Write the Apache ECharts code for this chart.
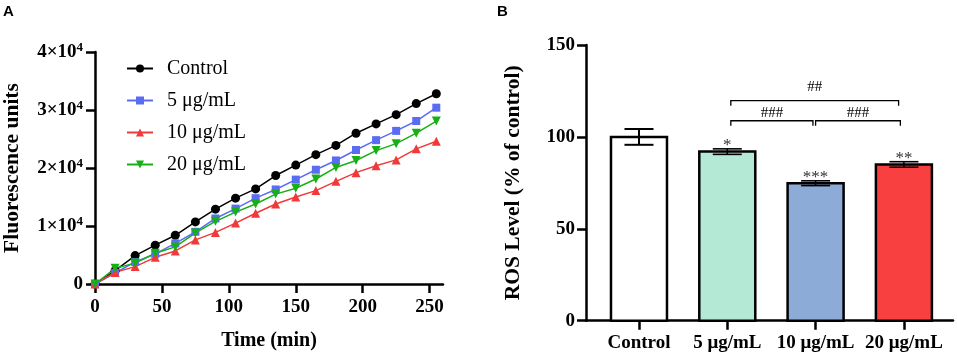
<!DOCTYPE html>
<html>
<head>
<meta charset="utf-8">
<script src="https://cdn.jsdelivr.net/npm/echarts@6/dist/echarts.min.js"></script>
<style>html,body{margin:0;padding:0;background:#fff}#c{width:957px;height:358px}</style>
</head>
<body>
<div id="c"></div>
<script>
// ---- Panel A data ----
const timeMin = [0,15,30,45,60,75,90,105,120,135,150,165,180,195,210,225,240,255];
const seriesNames = ['Control','5 μg/mL','10 μg/mL','20 μg/mL'];
const control = [0,2300,4900,6700,8400,10700,12900,14800,16400,18700,20500,22300,23900,26000,27600,29200,31100,32800];
const c5  = [0,1900,3800,5200,7000,9000,11300,13000,14800,16300,18000,19700,21300,23100,24800,26400,28100,30400];
const c10 = [0,2000,3000,4600,5700,7600,8900,10500,12200,13800,15000,16100,17700,19200,20400,21400,23300,24600];
const c20 = [0,2700,3600,5300,6400,8800,10800,12400,13800,15500,16500,18100,20100,21300,23000,24200,26000,28100];
const xTicksA = [0,50,100,150,200,250];
const yTicksA = [0,10000,20000,30000,40000];

// ---- Panel B data ----
const categoriesB = ['Control','5 μg/mL','10 μg/mL','20 μg/mL'];
const rosMean = [100, 92, 74.8, 85];
const rosErr  = [4.3, 1.5, 1.3, 1.5];
const rosSig  = ['', '*', '***', '**'];
const yTicksB = [0,50,100,150];
// brackets: from index, to index, bracket height, label, label height
const bracketFrom  = [1.04, 1.04, 2.0];
const bracketTo    = [2.94, 1.97, 2.96];
const bracketY     = [119.7, 108.8, 108.8];
const bracketLabel = ['##', '###', '###'];
const bracketLabelY= [127, 113.2, 113.2];

const serif = '"Liberation Serif", "Times New Roman", serif';
const colors = ['#000000', '#5a6cf2', '#f03a3a', '#16b016'];
const barFills = ['#ffffff', '#b4e9d6', '#8cabd6', '#f84040'];

const chart = echarts.init(document.getElementById('c'), null, {renderer: 'canvas'});

const axisLineStyle = {color: '#000', width: 2.5};
const boldLabel = {color: '#000', fontFamily: serif, fontWeight: 'bold', fontSize: 19};

function lineSeries(name, data, symbol, size, color) {
  return {
    type: 'line', name: name, xAxisIndex: 0, yAxisIndex: 0,
    data: timeMin.map((t, i) => [t, data[i]]),
    symbol: symbol, symbolSize: size, showSymbol: true,
    lineStyle: {color: color, width: 1.5},
    itemStyle: {color: color},
    animation: false
  };
}

const option = {
  animation: false,
  graphic: [
    {type: 'text', left: 3, top: 4, style: {text: 'A', font: 'bold 15px "Liberation Sans", Arial, sans-serif', fill: '#000'}},
    {type: 'text', left: 497, top: 4, style: {text: 'B', font: 'bold 15px "Liberation Sans", Arial, sans-serif', fill: '#000'}}
  ],
  legend: {
    orient: 'vertical', left: 121, top: 53,
    itemWidth: 26, itemHeight: 10, itemGap: 11,
    textStyle: {fontFamily: serif, fontSize: 20, color: '#000', lineHeight: 21, padding: [0,0,0,9]},
    data: seriesNames
  },
  grid: [
    {left: 94, right: 514, top: 52, bottom: 74},
    {left: 586, right: 4, top: 45, bottom: 37.3}
  ],
  xAxis: [
    {
      type: 'value', gridIndex: 0, min: 0, max: 260,
      name: 'Time (min)', nameLocation: 'middle', nameGap: 47,
      nameTextStyle: {fontFamily: serif, fontWeight: 'bold', fontSize: 20, color: '#000'},
      axisLine: {show: true, onZero: false, lineStyle: axisLineStyle},
      axisTick: {show: true, length: 9, lineStyle: {color: '#000', width: 2.5}, customValues: xTicksA},
      axisLabel: Object.assign({margin: 14, customValues: xTicksA}, boldLabel),
      splitLine: {show: false}
    },
    {
      type: 'value', gridIndex: 1, min: -0.6, max: 3.556,
      axisLine: {show: true, onZero: false, lineStyle: axisLineStyle},
      axisTick: {show: true, length: 9, lineStyle: {color: '#000', width: 2.5}, customValues: [0,1,2,3]},
      axisLabel: Object.assign({margin: 13, customValues: [0,1,2,3], formatter: v => categoriesB[Math.round(v)]}, boldLabel),
      splitLine: {show: false}
    }
  ],
  yAxis: [
    {
      type: 'value', gridIndex: 0, min: 0, max: 40000,
      name: 'Fluorescence units', nameLocation: 'middle', nameGap: 72,
      nameTextStyle: {fontFamily: serif, fontWeight: 'bold', fontSize: 21.5, color: '#000'},
      axisLine: {show: true, onZero: false, lineStyle: axisLineStyle},
      axisTick: {show: true, length: 9, lineStyle: {color: '#000', width: 2.5}, customValues: yTicksA},
      axisLabel: Object.assign({margin: 12, customValues: yTicksA,
        formatter: v => v === 0 ? '{b|0}' : '{b|' + (v / 10000) + '×10}{s|4}',
        rich: {
          b: {fontFamily: serif, fontWeight: 'bold', fontSize: 19, color: '#000'},
          s: {fontFamily: serif, fontWeight: 'bold', fontSize: 13, color: '#000', padding: [0,0,9,0]}
        }}, boldLabel),
      splitLine: {show: false}
    },
    {
      type: 'value', gridIndex: 1, min: 0, max: 150, interval: 50,
      name: 'ROS Level (% of control)', nameLocation: 'middle', nameGap: 62,
      nameTextStyle: {fontFamily: serif, fontWeight: 'bold', fontSize: 21.5, color: '#000'},
      axisLine: {show: true, onZero: false, lineStyle: axisLineStyle},
      axisTick: {show: true, length: 9, lineStyle: {color: '#000', width: 2.5}, customValues: yTicksB},
      axisLabel: Object.assign({margin: 11, customValues: yTicksB}, boldLabel),
      splitLine: {show: false}
    }
  ],
  series: [
    lineSeries(seriesNames[0], control, 'circle', 9, colors[0]),
    lineSeries(seriesNames[1], c5, 'rect', 8, colors[1]),
    lineSeries(seriesNames[2], c10, 'triangle', 9, colors[2]),
    lineSeries(seriesNames[3], c20, 'path://M0,0 L10,0 L5,9 Z', 9, colors[3]),
    {
      type: 'custom', xAxisIndex: 1, yAxisIndex: 1,
      data: rosMean.map((m, i) => [i, m, rosErr[i]]),
      renderItem: function (params, api) {
        const i = api.value(0), m = api.value(1), e = api.value(2);
        const top = api.coord([i, m]);
        const base = api.coord([i, 0]);
        const hi = api.coord([i, m + e]);
        const lo = api.coord([i, m - e]);
        const bw = 56, cw = 29;
        const lw = i === 0 ? 2 : 1.6;
        return {
          type: 'group',
          children: [
            {type: 'rect', shape: {x: top[0] - bw / 2, y: top[1], width: bw, height: base[1] - top[1]},
             style: {fill: barFills[i], stroke: '#000', lineWidth: 2.5}},
            {type: 'line', shape: {x1: hi[0], y1: hi[1], x2: lo[0], y2: lo[1]}, style: {stroke: '#000', lineWidth: lw}},
            {type: 'line', shape: {x1: hi[0] - cw / 2, y1: hi[1], x2: hi[0] + cw / 2, y2: hi[1]}, style: {stroke: '#000', lineWidth: lw}},
            {type: 'line', shape: {x1: lo[0] - cw / 2, y1: lo[1], x2: lo[0] + cw / 2, y2: lo[1]}, style: {stroke: '#000', lineWidth: lw}},
            {type: 'text', style: {text: rosSig[i], x: hi[0], y: hi[1] - 3, align: 'center', verticalAlign: 'middle',
              font: '17px "Liberation Serif", serif', fill: '#333'}}
          ]
        };
      }
    },
    {
      type: 'custom', xAxisIndex: 1, yAxisIndex: 1,
      data: bracketFrom.map((f, i) => [f, bracketTo[i], bracketY[i], bracketLabelY[i], i]),
      renderItem: function (params, api) {
        const a = api.coord([api.value(0), api.value(2)]);
        const b = api.coord([api.value(1), api.value(2)]);
        const lab = api.coord([(api.value(0) + api.value(1)) / 2, api.value(3)]);
        const drop = 5;
        return {
          type: 'group',
          children: [
            {type: 'polyline', shape: {points: [[a[0], a[1] + drop], [a[0], a[1]], [b[0], b[1]], [b[0], b[1] + drop]]},
             style: {stroke: '#000', lineWidth: 1.3, fill: null}},
            {type: 'text', style: {text: bracketLabel[api.value(4)], x: lab[0], y: lab[1], align: 'center', verticalAlign: 'middle',
              font: '15px "Liberation Serif", serif', fill: '#000'}}
          ]
        };
      }
    }
  ]
};
chart.setOption(option);
</script>
</body>
</html>
